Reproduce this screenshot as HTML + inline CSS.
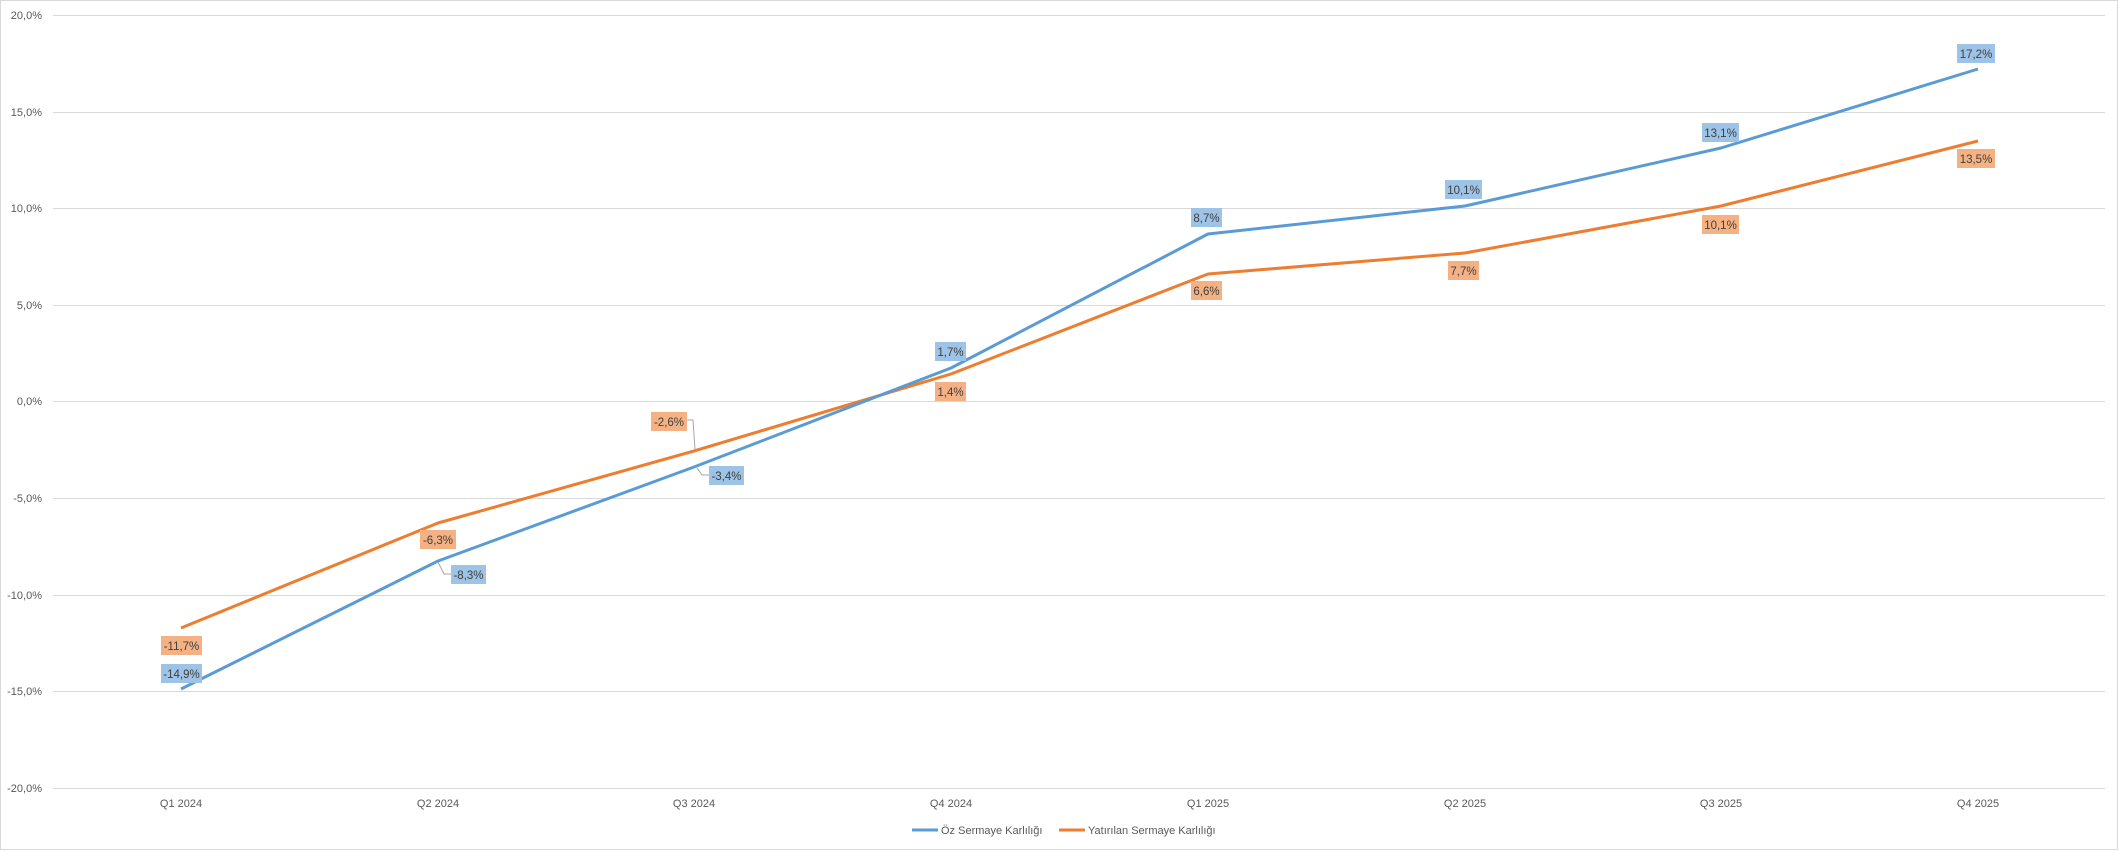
<!DOCTYPE html>
<html><head><meta charset="utf-8"><style>
html,body{margin:0;padding:0;background:#fff;}
svg{display:block;}
text{font-family:"Liberation Sans",sans-serif;}
</style></head><body>
<svg width="2119" height="851" xmlns="http://www.w3.org/2000/svg">
<rect x="0.5" y="0.5" width="2117" height="849" fill="#fff" stroke="#d9d9d9"/>
<g stroke="#d9d9d9" stroke-width="1">
<line x1="53" x2="2105" y1="15.5" y2="15.5"/>
<line x1="53" x2="2105" y1="112.5" y2="112.5"/>
<line x1="53" x2="2105" y1="208.5" y2="208.5"/>
<line x1="53" x2="2105" y1="305.5" y2="305.5"/>
<line x1="53" x2="2105" y1="401.5" y2="401.5"/>
<line x1="53" x2="2105" y1="498.5" y2="498.5"/>
<line x1="53" x2="2105" y1="595.5" y2="595.5"/>
<line x1="53" x2="2105" y1="691.5" y2="691.5"/>
<line x1="53" x2="2105" y1="788.5" y2="788.5"/>
</g>
<g font-size="11" fill="#595959" text-anchor="end">
<text x="42" y="19">20,0%</text>
<text x="42" y="116">15,0%</text>
<text x="42" y="212">10,0%</text>
<text x="42" y="309">5,0%</text>
<text x="42" y="405">0,0%</text>
<text x="42" y="502">-5,0%</text>
<text x="42" y="599">-10,0%</text>
<text x="42" y="695">-15,0%</text>
<text x="42" y="792">-20,0%</text>
</g>
<g font-size="11" fill="#595959" text-anchor="middle">
<text x="181" y="807">Q1 2024</text>
<text x="438" y="807">Q2 2024</text>
<text x="694" y="807">Q3 2024</text>
<text x="951" y="807">Q4 2024</text>
<text x="1208" y="807">Q1 2025</text>
<text x="1465" y="807">Q2 2025</text>
<text x="1721" y="807">Q3 2025</text>
<text x="1978" y="807">Q4 2025</text>
</g>
<polyline fill="none" stroke="#ED7D31" stroke-width="3" stroke-linejoin="round" points="181,628 438,523 694,451 951,374 1208,274 1465,253 1721,206 1978,141"/>
<polyline fill="none" stroke="#5B9BD5" stroke-width="3" stroke-linejoin="round" points="181,689 438,561 694,467 951,368 1208,234 1465,206 1721,148 1978,69"/>
<g stroke="#a6a6a6" fill="none" stroke-width="1">
<polyline points="438,562 444,574 451,574"/>
<polyline points="687,420 693,420 695,450"/>
<polyline points="697,468 702,475 709,475"/>
</g>
<g font-size="11.5" fill="#404040" text-anchor="middle">
<rect x="161" y="664" width="41" height="19" fill="#9DC3E6"/><text x="181.5" y="678">-14,9%</text>
<rect x="161" y="636" width="41" height="19" fill="#F4B183"/><text x="181.5" y="650">-11,7%</text>
<rect x="420" y="530" width="36" height="19" fill="#F4B183"/><text x="438" y="544">-6,3%</text>
<rect x="451" y="565" width="35" height="19" fill="#9DC3E6"/><text x="468.5" y="579">-8,3%</text>
<rect x="651" y="412" width="36" height="19" fill="#F4B183"/><text x="669" y="426">-2,6%</text>
<rect x="709" y="466" width="35" height="19" fill="#9DC3E6"/><text x="726.5" y="480">-3,4%</text>
<rect x="935" y="342" width="31" height="19" fill="#9DC3E6"/><text x="950.5" y="356">1,7%</text>
<rect x="935" y="382" width="31" height="19" fill="#F4B183"/><text x="950.5" y="396">1,4%</text>
<rect x="1191" y="208" width="31" height="19" fill="#9DC3E6"/><text x="1206.5" y="222">8,7%</text>
<rect x="1191" y="281" width="31" height="19" fill="#F4B183"/><text x="1206.5" y="295">6,6%</text>
<rect x="1445" y="180" width="37" height="19" fill="#9DC3E6"/><text x="1463.5" y="194">10,1%</text>
<rect x="1448" y="261" width="31" height="19" fill="#F4B183"/><text x="1463.5" y="275">7,7%</text>
<rect x="1702" y="123" width="37" height="19" fill="#9DC3E6"/><text x="1720.5" y="137">13,1%</text>
<rect x="1702" y="215" width="37" height="19" fill="#F4B183"/><text x="1720.5" y="229">10,1%</text>
<rect x="1957" y="44" width="38" height="19" fill="#9DC3E6"/><text x="1976" y="58">17,2%</text>
<rect x="1957" y="149" width="38" height="19" fill="#F4B183"/><text x="1976" y="163">13,5%</text>
</g>
<line x1="912" x2="938" y1="830" y2="830" stroke="#5B9BD5" stroke-width="3"/>
<text x="941" y="834" font-size="11" fill="#595959">Öz Sermaye Karlılığı</text>
<line x1="1059" x2="1085" y1="830" y2="830" stroke="#ED7D31" stroke-width="3"/>
<text x="1088" y="834" font-size="11" fill="#595959">Yatırılan Sermaye Karlılığı</text>
</svg>
</body></html>
